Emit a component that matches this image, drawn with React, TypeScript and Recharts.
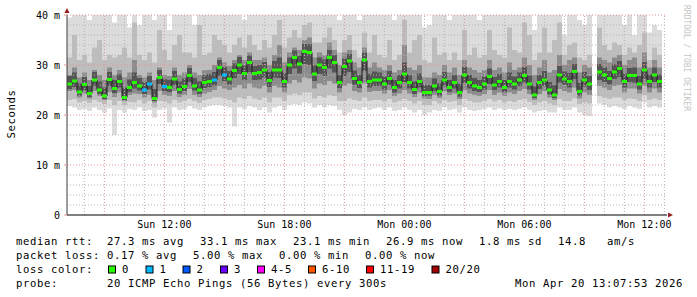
import React from 'react';
import { ComposedChart, Area, XAxis, YAxis, ReferenceLine, ReferenceDot } from 'recharts';

// time axis: hours since Sun 00:00; graph spans 30 h ending Mon 13:07:53
const startHour = 7 + 7 / 60 + 53 / 3600;
const stepHours = 0.25;
const spanHours = 30;

const timeTicks = [12, 18, 24, 30, 36];
const timeTickLabels = ['Sun 12:00', 'Sun 18:00', 'Mon 00:00', 'Mon 06:00', 'Mon 12:00'];
const rttTicks = [0, 10, 20, 30, 40];
const rttTickLabels = ['0', '10 m', '20 m', '30 m', '40 m'];
const minorHours = [8, 10, 11, 13, 14, 16, 17, 19, 20, 22, 23, 25, 26, 28, 29, 31, 32, 34, 35, 37];
const majorHours = [9, 12, 15, 18, 21, 24, 27, 30, 33, 36];
const minorMs = [2, 4, 6, 8, 12, 14, 16, 18, 22, 24, 26, 28, 32, 34, 36, 38];
const majorMs = [10, 20, 30, 40];

// median rtt (ms), one value per 15 minutes
const medianMs: (number | null)[] = [
  26.2, 26.8, 24.6, 26.1, 24.3, 27.0, 25.0, 23.8, 27.1, 25.3,
  26.7, 23.5, 25.5, 26.5, 25.8, 25.0, 26.2, 23.3, 27.5, 25.7,
  25.5, 27.2, 25.1, 25.7, 27.9, 25.8, 25.0, 26.5, 26.7, 27.0,
  29.5, 28.0, 27.2, 28.9, 30.0, 28.3, 30.5, 28.3, 28.5, 29.0,
  26.9, 29.0, 29.0, 26.7, 30.0, 31.5, 30.2, 32.7, 32.5, 28.2,
  30.0, 29.5, 31.5, 30.5, 26.5, 29.7, 30.8, 27.3, 26.5, 31.0,
  26.7, 27.0, 27.0, 26.2, 27.3, 25.5, 26.5, 28.2, 26.5, 25.1,
  26.7, 24.5, 24.5, 25.8, 24.7, 27.0, 25.5, 26.5, 24.5, 28.0,
  26.5, 25.8, 25.5, 26.2, 27.7, 26.0, 26.7, 25.5, 26.7, 26.2,
  27.0, 27.9, 26.2, 24.0, 26.5, 27.0, 25.0, 24.0, 28.0, 27.2,
  26.7, 28.7, 24.7, 27.0, 26.2, null, 28.6, 28.0, 27.3, 28.6,
  29.3, 26.7, 27.9, 27.9, 26.2, 29.0, 26.7, 28.0, 26.7,
];

// steps where one of the 20 pings was lost
const oneLossSteps = [15, 16, 19, 29, 31];

// smoke bands (ms): outermost pings ... innermost pings
const smokeMin: (number | null)[] = [
  21.8, 21.5, 21.0, 21.2, 20.8, 21.5, 21.0, 20.5, 21.3, 16.0,
  21.0, 20.5, 21.2, 21.0, 21.5, 20.8, 21.0, 19.5, 21.0, 21.3,
  18.5, 21.5, 21.0, 21.2, 21.8, 21.3, 21.0, 21.5, 21.8, 22.0,
  22.0, 21.8, 21.5, 17.7, 21.5, 21.2, 21.8, 21.5, 21.0, 21.5,
  20.5, 21.5, 21.8, 21.0, 22.0, 22.2, 22.0, 22.5, 22.3, 21.5,
  22.0, 21.5, 22.0, 21.8, 21.0, 20.0, 20.5, 21.2, 21.0, 21.5,
  21.0, 21.3, 21.5, 21.0, 21.5, 20.8, 21.0, 21.5, 21.0, 20.5,
  21.0, 20.0, 20.5, 21.0, 20.8, 21.5, 21.0, 21.2, 20.5, 21.5,
  21.0, 20.8, 21.0, 21.2, 21.5, 21.0, 21.3, 21.0, 21.2, 21.0,
  21.2, 21.5, 21.0, 20.5, 20.8, 21.0, 20.5, 20.5, 21.5, 21.0,
  21.0, 21.5, 20.5, 20.0, 19.8, null, 22.3, 22.0, 21.5, 21.8,
  21.5, 21.2, 21.8, 21.5, 21.2, 22.5, 21.5, 21.8, 21.5,
];
const smokeLow: (number | null)[] = [
  23.0, 23.2, 22.5, 22.8, 22.4, 23.0, 22.6, 22.2, 23.0, 22.0,
  22.8, 22.0, 22.6, 22.5, 23.0, 22.3, 22.8, 21.5, 22.8, 22.7,
  22.3, 23.0, 22.5, 22.8, 23.2, 22.8, 22.4, 23.0, 23.2, 23.5,
  23.5, 23.3, 23.0, 22.5, 23.5, 23.2, 23.8, 23.3, 23.0, 23.5,
  22.5, 23.5, 23.5, 22.8, 24.0, 24.3, 24.0, 24.5, 24.5, 23.3,
  23.8, 23.5, 24.0, 23.8, 22.8, 22.8, 23.3, 23.0, 22.8, 23.5,
  22.8, 23.0, 23.0, 22.7, 23.2, 22.5, 22.8, 23.2, 22.8, 22.3,
  22.8, 22.0, 22.0, 22.8, 22.3, 23.0, 22.6, 22.8, 22.0, 23.2,
  22.8, 22.5, 22.5, 22.8, 23.2, 22.7, 23.0, 22.5, 22.8, 22.6,
  23.0, 23.2, 22.6, 22.0, 22.5, 22.8, 22.3, 22.0, 23.2, 22.8,
  22.8, 23.3, 22.2, 22.5, 22.3, null, 23.8, 23.5, 23.2, 23.5,
  23.5, 23.0, 23.3, 23.2, 22.8, 24.0, 23.0, 23.3, 23.0,
];
const coreLow: (number | null)[] = [
  24.8, 25.0, 23.5, 24.3, 23.3, 24.8, 23.8, 23.0, 24.6, 23.6,
  24.5, 22.8, 24.0, 24.3, 24.2, 23.5, 24.0, 22.5, 24.8, 24.0,
  23.8, 24.8, 23.6, 24.0, 25.2, 24.0, 23.6, 24.3, 24.6, 25.0,
  25.8, 25.3, 25.0, 25.5, 26.0, 25.3, 26.3, 25.5, 25.3, 25.8,
  24.5, 25.8, 25.5, 24.5, 26.3, 27.0, 26.5, 27.5, 27.3, 25.3,
  26.3, 26.0, 26.8, 26.3, 24.5, 25.8, 26.3, 24.8, 24.5, 26.3,
  24.6, 24.8, 24.8, 24.3, 25.0, 23.8, 24.3, 25.0, 24.3, 23.6,
  24.5, 23.3, 23.2, 24.0, 23.4, 24.8, 24.0, 24.3, 23.2, 25.0,
  24.3, 24.0, 23.8, 24.2, 25.0, 24.0, 24.5, 23.8, 24.5, 24.2,
  24.8, 25.2, 24.2, 23.0, 24.2, 24.8, 23.5, 23.0, 25.2, 24.8,
  24.5, 25.5, 23.3, 24.5, 24.0, null, 25.8, 25.5, 25.0, 25.8,
  26.0, 24.5, 25.3, 25.3, 24.3, 25.8, 24.5, 25.3, 24.5,
];
const darkLow: (number | null)[] = [
  25.2, 25.6, 23.9, 25.0, 23.6, 25.8, 24.2, 23.2, 25.8, 24.4,
  25.5, 23.0, 24.6, 25.3, 24.9, 24.2, 25.1, 22.8, 26.2, 24.8,
  24.6, 26.0, 24.3, 24.8, 26.6, 24.9, 24.2, 25.4, 25.6, 25.9,
  27.8, 26.8, 26.1, 27.4, 28.2, 27.0, 28.6, 27.0, 27.1, 27.5,
  25.6, 27.5, 27.4, 25.5, 28.2, 29.3, 28.3, 30.2, 30.0, 26.8,
  28.2, 27.8, 29.3, 28.5, 25.4, 27.8, 28.6, 26.0, 25.4, 28.8,
  25.5, 25.8, 25.8, 25.1, 26.0, 24.5, 25.3, 26.6, 25.3, 24.2,
  25.5, 23.8, 23.8, 24.8, 23.9, 25.8, 24.6, 25.3, 23.7, 26.4,
  25.3, 24.8, 24.6, 25.1, 26.2, 25.0, 25.5, 24.6, 25.5, 25.1,
  25.8, 26.5, 25.1, 23.4, 25.2, 25.8, 24.1, 23.4, 26.5, 26.0,
  25.5, 27.2, 23.9, 25.7, 25.0, null, 27.0, 26.6, 26.1, 27.2,
  27.6, 25.5, 26.6, 26.5, 25.1, 27.3, 25.5, 26.6, 25.5,
];
const darkHigh: (number | null)[] = [
  27.8, 28.5, 26.3, 27.6, 25.8, 28.6, 26.7, 25.5, 28.6, 27.0,
  28.2, 25.4, 27.1, 28.5, 27.4, 26.6, 27.8, 25.2, 29.0, 27.2,
  27.0, 28.8, 26.7, 27.3, 29.4, 27.4, 26.7, 28.0, 28.2, 28.6,
  31.0, 29.6, 28.8, 30.3, 31.6, 29.9, 31.9, 29.8, 30.0, 30.6,
  28.6, 30.8, 31.5, 28.4, 31.5, 32.9, 31.8, 34.2, 34.2, 29.9,
  31.5, 31.1, 33.0, 32.0, 28.0, 31.3, 32.2, 28.9, 28.0, 32.5,
  28.2, 28.7, 28.5, 27.7, 28.8, 27.0, 28.0, 30.5, 28.0, 26.7,
  28.3, 26.0, 26.0, 27.3, 26.3, 28.6, 27.0, 28.0, 26.2, 29.6,
  28.0, 27.4, 27.0, 27.7, 29.3, 27.6, 28.2, 27.0, 28.5, 27.7,
  28.5, 29.6, 27.9, 25.7, 28.0, 28.8, 26.6, 26.0, 29.8, 28.7,
  28.4, 30.2, 26.4, 28.6, 27.8, null, 30.2, 29.5, 28.8, 30.1,
  30.8, 28.3, 29.4, 29.5, 27.8, 30.6, 28.1, 29.5, 28.1,
];
const coreHigh: (number | null)[] = [
  28.0, 29.5, 27.5, 28.5, 27.0, 29.0, 28.0, 27.0, 29.5, 28.0,
  29.0, 27.5, 28.5, 31.0, 28.0, 27.5, 28.5, 27.0, 29.5, 28.0,
  27.8, 29.5, 28.0, 28.5, 30.0, 28.5, 28.0, 29.0, 29.0, 30.0,
  31.5, 30.5, 29.8, 31.0, 32.0, 31.0, 32.5, 31.0, 31.0, 31.5,
  30.0, 32.0, 34.0, 30.5, 32.5, 33.5, 33.0, 35.0, 35.5, 31.5,
  32.5, 32.0, 34.5, 33.0, 30.0, 32.5, 33.0, 30.5, 29.5, 33.5,
  29.5, 30.5, 29.5, 29.0, 30.0, 28.5, 29.0, 34.0, 29.5, 29.0,
  30.0, 27.5, 27.5, 28.5, 28.0, 30.0, 28.5, 29.5, 28.0, 31.0,
  29.5, 29.0, 28.5, 29.0, 31.0, 29.0, 29.5, 28.5, 30.5, 29.0,
  29.5, 31.5, 30.0, 28.0, 29.5, 31.0, 28.5, 29.0, 32.0, 30.0,
  31.0, 31.5, 28.5, 30.0, 29.5, null, 31.5, 31.0, 30.5, 31.5,
  32.0, 30.0, 31.0, 31.5, 29.5, 32.5, 29.5, 31.0, 29.5,
];
const smokeHigh: (number | null)[] = [
  31.5, 36.0, 31.0, 32.0, 30.5, 33.5, 35.0, 31.0, 32.0, 31.5,
  32.0, 33.5, 31.5, 38.5, 32.0, 31.0, 32.5, 30.5, 37.0, 33.0,
  31.0, 34.0, 36.0, 32.5, 32.5, 31.5, 38.0, 32.0, 32.5, 36.0,
  35.0, 34.0, 32.5, 34.0, 35.5, 33.5, 36.0, 34.0, 33.0, 35.0,
  33.5, 36.0, 39.0, 33.5, 35.5, 37.0, 35.5, 38.0, 38.5, 34.5,
  34.5, 35.5, 37.5, 35.0, 32.5, 35.0, 36.0, 33.0, 31.5, 36.5,
  32.5, 36.0, 32.0, 31.5, 35.0, 31.0, 32.0, 39.0, 32.5, 35.0,
  36.0, 31.0, 30.5, 35.5, 32.0, 32.5, 31.0, 32.5, 31.0, 37.0,
  32.0, 33.5, 31.5, 32.0, 37.0, 33.0, 32.0, 31.5, 37.5, 33.0,
  32.5, 38.5, 36.0, 31.0, 32.5, 37.5, 32.5, 35.0, 38.5, 32.0,
  34.0, 34.5, 31.5, 31.0, 32.0, null, 37.5, 34.0, 33.0, 34.5,
  34.0, 32.0, 33.5, 32.5, 34.0, 36.5, 31.0, 33.5, 32.0,
];
const smokeMax: (number | null)[] = [
  39.5, 40, 40, 40, 39.0, 40, 40, 40, 40, 38.5,
  40, 40, 37.5, 40, 38.0, 40, 40, 39.0, 40, 40,
  37.0, 40, 40, 40, 40, 38.0, 40, 40, 40, 40,
  40, 40, 40, 40, 40, 39.0, 40, 40, 40, 40,
  40, 40, 40, 40, 40, 40, 40, 40, 40, 40,
  40, 40, 40, 40, 39.0, 40, 40, 40, 39.0, 40,
  40, 40, 40, 40, 40, 39.0, 40, 40, 40, 40,
  40, 37.5, 38.0, 40, 40, 40, 39.0, 40, 40, 40,
  40, 40, 39.0, 40, 40, 40, 40, 40, 40, 40,
  40, 40, 40, 37.0, 40, 40, 40, 40, 40, 36.0,
  40, 40, 39.0, 38.0, 40, null, 40, 40, 40, 40,
  40, 38.0, 40, 36.0, 40, 40, 36.5, 38.0, 37.0,
];

const lossLegend = [
  { label: '0', color: '#26ff00' },
  { label: '1', color: '#00b8ff' },
  { label: '2', color: '#0059ff' },
  { label: '3', color: '#6a00ff' },
  { label: '4-5', color: '#ff00ff' },
  { label: '6-10', color: '#ff5500' },
  { label: '11-19', color: '#ff0000' },
  { label: '20/20', color: '#a10000' },
];

type Band = [number, number] | null;
type Row = { t: number; outer: Band; mid: Band; core: Band; dark: Band };

const timeAt = (i: number) => startHour + i * stepHours;
const band = (lo: (number | null)[], hi: (number | null)[], i: number): Band =>
  lo[i] == null || hi[i] == null ? null : [lo[i] as number, hi[i] as number];

const makeRow = (i: number, t: number): Row => ({
  t,
  outer: band(smokeMin, smokeMax, i),
  mid: band(smokeLow, smokeHigh, i),
  core: band(coreLow, coreHigh, i),
  dark: band(darkLow, darkHigh, i),
});

const rows: Row[] = [];
for (let i = 0; i < medianMs.length; i++) {
  rows.push(makeRow(i, timeAt(i)));
  const next = i + 1 < medianMs.length ? medianMs[i + 1] : null;
  if (medianMs[i] != null && next == null) rows.push(makeRow(i, timeAt(i + 1)));
}

const MINOR = '#b4b4b4';
const MAJOR = '#e39494';
const ARROW = '#9a1c1c';
const FONT = "'DejaVu Sans Mono', monospace";

const upArrow = (p: any) => (
  <polygon points={`${p.cx - 2.5},${p.cy - 2} ${p.cx},${p.cy - 7} ${p.cx + 2.5},${p.cy - 2}`} fill={ARROW} />
);
const rightArrow = (p: any) => (
  <polygon points={`${p.cx + 1},${p.cy - 2.5} ${p.cx + 6},${p.cy} ${p.cx + 1},${p.cy + 2.5}`} fill={ARROW} />
);

const bandProps = {
  type: 'stepAfter' as const,
  stroke: 'none',
  fillOpacity: 1,
  isAnimationActive: false,
  connectNulls: false,
  dot: false,
  activeDot: false,
};

export default function App() {
  const tickStyle = { fontFamily: FONT, fontSize: 10, fill: '#000' };
  return (
    <div style={{ position: 'absolute', left: 0, top: 0, width: 697, height: 297, background: '#fff' }}>
      <ComposedChart
        width={697}
        height={297}
        data={rows}
        margin={{ top: 15, right: 30, bottom: 62, left: 10 }}
      >
        <XAxis
          type="number"
          dataKey="t"
          domain={[startHour, startHour + spanHours]}
          allowDataOverflow
          ticks={timeTicks}
          tickFormatter={(v: number) => timeTickLabels[timeTicks.indexOf(v)] ?? ''}
          tick={tickStyle}
          tickLine={false}
          tickSize={0}
          tickMargin={6}
          axisLine={{ stroke: '#000' }}
          height={20}
          interval={0}
        />
        <YAxis
          type="number"
          domain={[0, 40]}
          allowDataOverflow
          ticks={rttTicks}
          tickFormatter={(v: number) => rttTickLabels[rttTicks.indexOf(v)] ?? ''}
          tick={tickStyle}
          tickLine={{ stroke: MAJOR }}
          tickSize={3}
          tickMargin={4}
          axisLine={{ stroke: '#3c3c3c' }}
          width={57}
          interval={0}
        />
        <Area dataKey="outer" fill="#dcdcdc" {...bandProps} />
        <Area dataKey="mid" fill="#bdbdbd" {...bandProps} />
        <Area dataKey="core" fill="#8c8c8c" {...bandProps} />
        <Area dataKey="dark" fill="#555555" {...bandProps} />
        {minorMs.map((v) => (
          <ReferenceLine key={`hm${v}`} y={v} stroke={MINOR} strokeDasharray="1 2" />
        ))}
        {minorHours.map((h) => (
          <ReferenceLine key={`vm${h}`} x={h} stroke={MINOR} strokeDasharray="1 2" />
        ))}
        {majorMs.map((v) => (
          <ReferenceLine key={`hM${v}`} y={v} stroke={MAJOR} strokeDasharray="1 2" />
        ))}
        {majorHours.map((h) => (
          <ReferenceLine key={`vM${h}`} x={h} stroke={MAJOR} strokeDasharray="1 2" />
        ))}
        {medianMs.map((m, i) => {
          const n = medianMs[i + 1];
          if (m == null || n == null) return null;
          return (
            <ReferenceLine
              key={`mv${i}`}
              segment={[{ x: timeAt(i + 1), y: m }, { x: timeAt(i + 1), y: n }]}
              stroke="#1c1c1c"
              strokeWidth={1}
            />
          );
        })}
        {medianMs.map((m, i) =>
          m == null ? null : (
            <ReferenceLine
              key={`md${i}`}
              segment={[{ x: timeAt(i), y: m }, { x: timeAt(i + 1), y: m }]}
              stroke={oneLossSteps.includes(i) ? lossLegend[1].color : lossLegend[0].color}
              strokeWidth={3}
            />
          )
        )}
        <ReferenceDot x={startHour} y={40} r={3} ifOverflow="visible" shape={upArrow} />
        <ReferenceDot x={startHour + spanHours} y={0} r={3} ifOverflow="visible" shape={rightArrow} />
      </ComposedChart>
      <svg
        width={697}
        height={297}
        style={{ position: 'absolute', left: 0, top: 0, pointerEvents: 'none' }}
      >
        <g fontFamily={FONT} fontSize={10.6} letterSpacing={0.62} fill="#000">
          <text transform="translate(14.5,114) rotate(-90)" textAnchor="middle">Seconds</text>
          <text x={16} y={245}>median rtt:</text>
          <text x={107} y={245}>27.3 ms avg</text>
          <text x={200} y={245}>33.1 ms max</text>
          <text x={293} y={245}>23.1 ms min</text>
          <text x={386} y={245}>26.9 ms now</text>
          <text x={479} y={245}>1.8 ms sd</text>
          <text x={558} y={245} xmlSpace="preserve">{'14.8   am/s'}</text>
          <text x={16} y={259}>packet loss:</text>
          <text x={107} y={259}>0.17 % avg</text>
          <text x={193} y={259}>5.00 % max</text>
          <text x={279} y={259}>0.00 % min</text>
          <text x={365} y={259}>0.00 % now</text>
          <text x={16} y={273}>loss color:</text>
          {(() => {
            const boxX = [108.5, 146, 183, 220.5, 257.5, 308.5, 366.5, 432];
            return lossLegend.map((l, k) => (
              <g key={l.label}>
                <rect x={boxX[k]} y={266} width={7} height={7} fill={l.color} stroke="#000" strokeWidth={1} />
                <text x={boxX[k] + 13.5} y={273}>{l.label}</text>
              </g>
            ));
          })()}
          <text x={16} y={287}>probe:</text>
          <text x={107} y={287}>20 ICMP Echo Pings (56 Bytes) every 300s</text>
          <text x={683} y={287} textAnchor="end">Mon Apr 20 13:07:53 2026</text>
        </g>
        <text
          transform="translate(683.5,5) rotate(90)"
          fontFamily={FONT}
          fontSize={8}
          fill="#c4c4c4"
        >
          RRDTOOL / TOBI OETIKER
        </text>
      </svg>
    </div>
  );
}
